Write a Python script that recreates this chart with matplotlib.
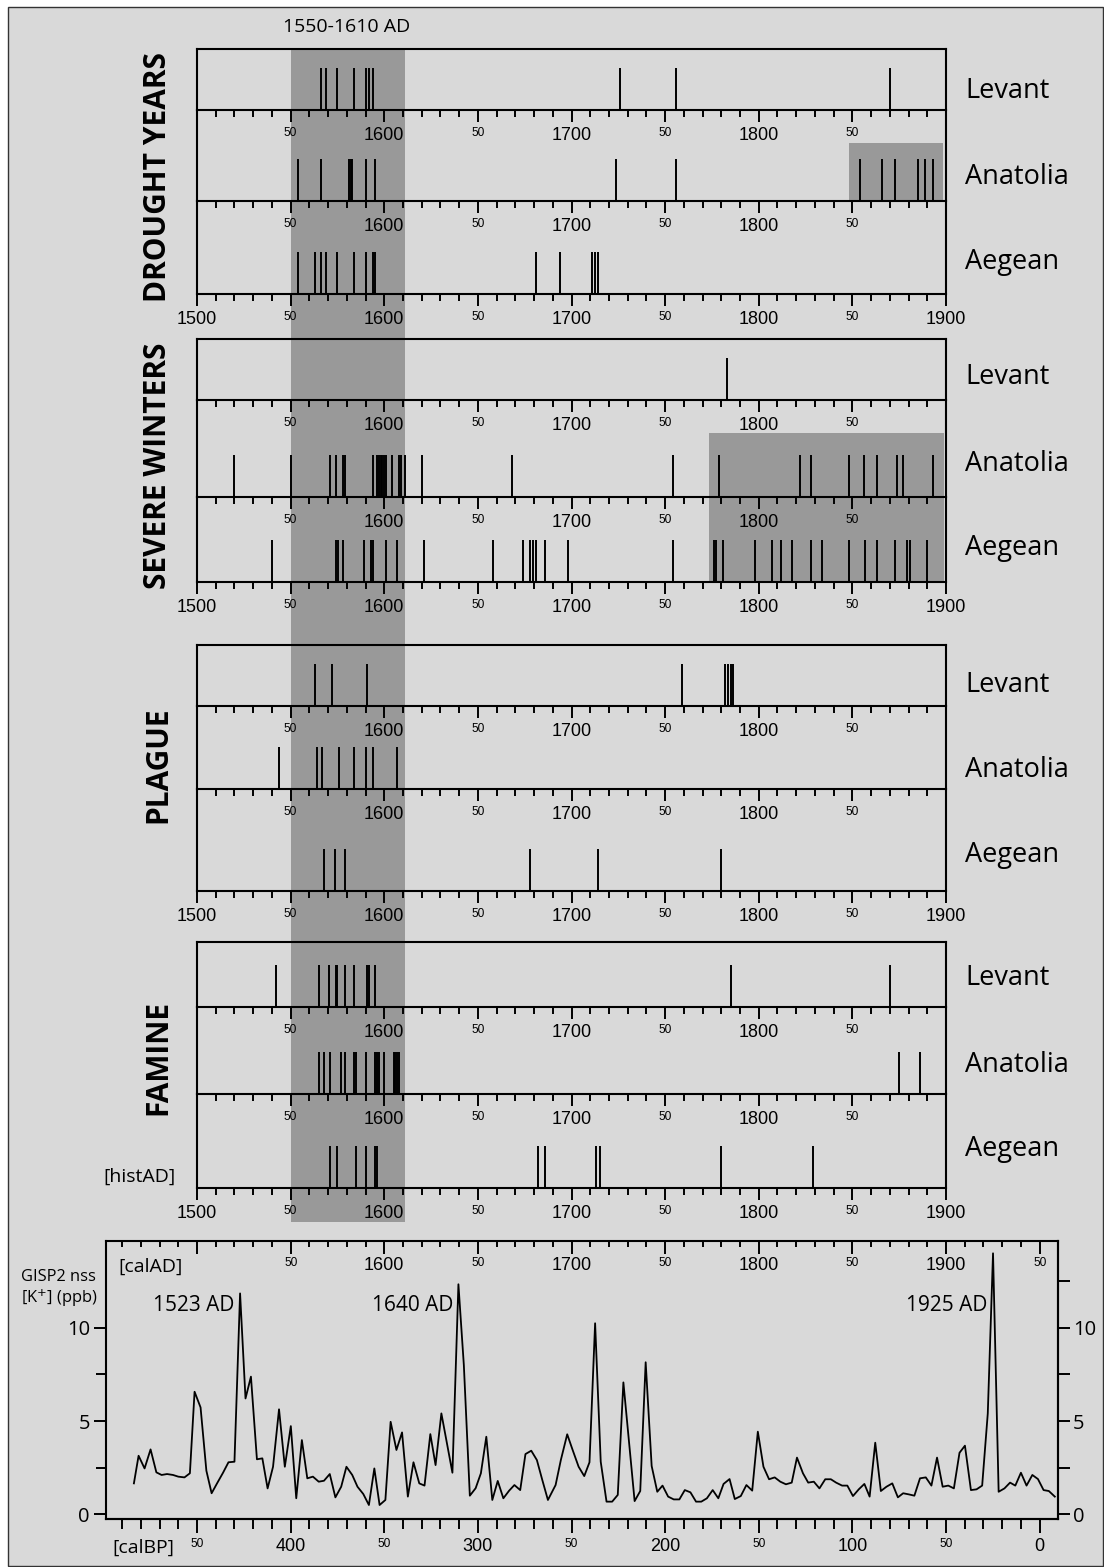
"""Historical drought / winter / plague / famine years (Levant, Anatolia, Aegean)
stacked above the GISP2 nss potassium record."""
import matplotlib
matplotlib.use("Agg")
import matplotlib.pyplot as plt
import numpy as np
from matplotlib.patches import Rectangle
from matplotlib.transforms import blended_transform_factory

# ---------------------------------------------------------------- data
regions = ["Levant", "Anatolia", "Aegean"]
categories = ["DROUGHT YEARS", "SEVERE WINTERS", "PLAGUE", "FAMINE"]

drought_levant = [1566, 1569, 1575, 1584, 1590, 1592, 1594, 1726, 1756, 1870]
drought_anatolia = [1554, 1566, 1581, 1582, 1583, 1590, 1595, 1724, 1756,
                    1854, 1866, 1873, 1885, 1889, 1893]
drought_aegean = [1554, 1563, 1566, 1569, 1575, 1584, 1590, 1594, 1595,
                  1681, 1694, 1711, 1712.5, 1714]

winter_levant = [1783]
winter_anatolia = [1520, 1550, 1571, 1574, 1578, 1579, 1594, 1596, 1597, 1598,
                   1599, 1600, 1601, 1604, 1608, 1609, 1611, 1620, 1668, 1754,
                   1779, 1822, 1828, 1848, 1856, 1863, 1874, 1877, 1893]
winter_aegean = [1540, 1574, 1575.5, 1578, 1589, 1593, 1594, 1601, 1607, 1621,
                 1658, 1674, 1678, 1679.5, 1681, 1686, 1698, 1754, 1776, 1777,
                 1781, 1798, 1807, 1812, 1818, 1828, 1834, 1848, 1857, 1863,
                 1873, 1879, 1881, 1890]

plague_levant = [1563, 1572, 1591, 1759, 1782, 1783.5, 1785, 1786]
plague_anatolia = [1544, 1564, 1567, 1576, 1584, 1590, 1594, 1607]
plague_aegean = [1568, 1573.5, 1579, 1678, 1714, 1780]

famine_levant = [1542, 1565, 1570.5, 1574, 1575, 1579, 1584, 1591, 1592, 1595,
                 1785, 1870]
famine_anatolia = [1565, 1568, 1571, 1577, 1579, 1584, 1585, 1590, 1595, 1596,
                   1597, 1600, 1605, 1606, 1607, 1608, 1875, 1886]
famine_aegean = [1571, 1575, 1585, 1590.5, 1595, 1596, 1682, 1686, 1713, 1715,
                 1780, 1829]

events = [
    [drought_levant, drought_anatolia, drought_aegean],
    [winter_levant, winter_anatolia, winter_aegean],
    [plague_levant, plague_anatolia, plague_aegean],
    [famine_levant, famine_anatolia, famine_aegean],
]

band_years = (1550, 1611)
band_label = "1550-1610 AD"
# shaded clusters: (category index, first region index, last region index, start, end)
clusters = [(0, 1, 1, 1848, 1898.5), (1, 1, 2, 1773.5, 1899)]

gisp_year = [1466.3, 1468.8, 1472.0, 1475.2, 1478.3, 1481.1, 1484.0, 1487.2, 1490.0,
             1493.3, 1496.2, 1498.7, 1501.9, 1505.0, 1507.8, 1510.7, 1513.9, 1516.8,
             1520.0, 1523.0, 1525.9, 1528.8, 1532.0, 1534.9, 1537.7, 1540.6, 1543.8,
             1546.9, 1550.1, 1553.0, 1556.0, 1558.9, 1561.9, 1565.0, 1567.8, 1570.9,
             1573.9, 1577.0, 1579.8, 1582.9, 1585.7, 1588.8, 1591.8, 1594.7, 1597.5,
             1600.6, 1603.4, 1606.5, 1609.5, 1612.6, 1615.6, 1618.7, 1621.5, 1624.6,
             1627.4, 1630.5, 1633.5, 1636.4, 1639.6, 1642.5, 1645.7, 1648.8, 1651.6,
             1654.5, 1657.7, 1660.6, 1663.6, 1666.7, 1669.5, 1672.6, 1675.4, 1678.5,
             1681.5, 1684.4, 1687.4, 1691.5, 1694.3, 1697.7, 1700.6, 1703.8, 1706.8,
             1709.6, 1712.6, 1715.6, 1718.7, 1721.7, 1724.7, 1727.7, 1730.7, 1733.7,
             1736.7, 1739.6, 1742.8, 1745.8, 1748.6, 1751.6, 1754.6, 1757.6, 1760.5,
             1763.5, 1766.5, 1769.3, 1772.3, 1775.4, 1778.4, 1781.2, 1784.4, 1787.2,
             1790.4, 1793.4, 1796.5, 1799.5, 1802.5, 1805.5, 1808.5, 1811.5, 1814.5,
             1817.6, 1820.4, 1823.6, 1826.4, 1829.4, 1832.4, 1835.5, 1838.5, 1841.3,
             1844.5, 1847.3, 1850.3, 1853.4, 1856.4, 1859.2, 1862.2, 1865.2, 1868.2,
             1871.3, 1874.3, 1877.1, 1880.1, 1883.1, 1886.1, 1889.2, 1892.2, 1895.2,
             1898.2, 1901.2, 1904.2, 1907.2, 1910.1, 1913.3, 1916.3, 1919.3, 1922.3,
             1925.1, 1928.1, 1931.2, 1934.2, 1937.0, 1940.0, 1943.0, 1946.1, 1949.1,
             1952.1, 1954.9, 1958.1]
gisp_k = [1.66, 3.14, 2.46, 3.48, 2.25, 2.11, 2.16, 2.11, 2.02,
          1.98, 2.20, 6.57, 5.73, 2.34, 1.13, 1.66, 2.23, 2.79,
          2.82, 11.84, 6.21, 7.38, 2.95, 3.00, 1.39, 2.55, 5.63,
          2.55, 4.73, 0.86, 3.98, 1.93, 2.02, 1.75, 1.80, 2.16,
          0.91, 1.48, 2.55, 2.11, 1.48, 1.09, 0.50, 2.46, 0.50,
          0.77, 4.96, 3.45, 4.39, 0.95, 2.79, 1.66, 1.54, 4.30,
          2.64, 5.41, 3.80, 2.23, 12.33, 8.00, 1.00, 1.40, 2.20,
          4.16, 0.77, 1.79, 0.86, 1.27, 1.57, 1.30, 3.23, 3.41,
          2.91, 1.84, 0.77, 1.57, 2.91, 4.29, 3.45, 2.55, 2.05,
          2.79, 10.24, 2.82, 0.68, 0.68, 1.04, 7.07, 3.89, 0.71,
          1.25, 8.15, 2.59, 1.21, 1.54, 0.95, 0.80, 0.80, 1.30,
          1.18, 0.68, 0.68, 0.86, 1.30, 0.86, 1.63, 1.89, 0.82,
          0.98, 1.57, 1.27, 4.43, 2.55, 1.88, 1.98, 1.75, 1.61,
          1.70, 3.04, 2.20, 1.70, 1.75, 1.39, 1.88, 1.88, 1.70,
          1.54, 1.54, 0.98, 1.34, 1.63, 0.95, 3.84, 1.25, 1.48,
          1.66, 0.91, 1.13, 1.07, 1.00, 1.93, 1.98, 1.54, 3.04,
          1.48, 1.54, 1.39, 3.30, 3.68, 1.30, 1.34, 1.54, 5.41,
          13.99, 1.21, 1.39, 1.70, 1.54, 2.23, 1.54, 2.11, 1.89,
          1.30, 1.25, 0.95]
peak_years = [1523, 1640, 1925]

# ---------------------------------------------------------------- layout (pixels)
W, H, DPI = 1104, 1567, 100
BG = "#d9d9d9"
SHADE = "#999999"
TICK_FONT = "Liberation Sans"
plt.rcParams["font.family"] = ["Open Sans", "DejaVu Sans"]


def fx(px):
    return px / W


def fy(py):
    return 1 - py / H


STRIP_X = (197, 946)
GROUP_TOP = [49, 339, 645, 942]
BASELINES = [[110, 201, 294], [400, 497, 582], [706, 789, 891], [1007, 1094, 1188]]
NAME_BASE = [[98, 184, 269], [384, 471, 555], [692, 777, 862], [985, 1072, 1156]]
TITLE_Y = [177, 466, 765, 1057]
MARK_H = 42

fig = plt.figure(figsize=(W / DPI, H / DPI), dpi=DPI, facecolor="white")
fig.add_artist(Rectangle((fx(8), fy(1566)), fx(1103) - fx(8), fy(7) - fy(1566),
                         transform=fig.transFigure, facecolor=BG,
                         edgecolor="#333333", lw=1.0, zorder=-3))

strip_axes = []
for gi, cat in enumerate(categories):
    prev = GROUP_TOP[gi]
    for si, region in enumerate(regions):
        b = BASELINES[gi][si]
        ax = fig.add_axes([fx(STRIP_X[0]), fy(b), fx(STRIP_X[1]) - fx(STRIP_X[0]),
                           (b - prev) / H])
        ax.patch.set_visible(False)
        ax.set_xlim(1500, 1900)
        ax.set_ylim(0, b - prev)
        ax.vlines(events[gi][si], 0, MARK_H, color="black", lw=1.4)
        for sp in ax.spines.values():
            sp.set_linewidth(1.5)
        ax.spines["top"].set_visible(si == 0)
        ax.set_yticks([])
        major = np.arange(1500, 1901, 50)
        last = si == 2
        labels = ["50" if y % 100 == 50 else (str(y) if (last or 1500 < y < 1900) else "")
                  for y in major]
        ax.set_xticks(major, labels)
        ax.set_xticks(np.arange(1500, 1901, 10), minor=True)
        ax.tick_params(axis="x", which="major", direction="out", length=8.4, width=1.4,
                       pad=3.5, labelfontfamily=TICK_FONT)
        ax.tick_params(axis="x", which="minor", direction="out", length=5, width=1.4)
        for t, lab in zip(ax.xaxis.get_major_ticks(), labels):
            t.label1.set_fontsize(8.6 if lab == "50" else 13)
        fig.text(fx(965), fy(NAME_BASE[gi][si]), region, fontsize=19.5, va="baseline")
        strip_axes.append((gi, si, ax))
        prev = b
    fig.text(fx(158), fy(TITLE_Y[gi]), cat, rotation=90, ha="center", va="center",
             fontsize=21.5, fontweight="bold")

ref_ax = strip_axes[0][2]
blend = blended_transform_factory(ref_ax.transData, fig.transFigure)
fig.add_artist(Rectangle((band_years[0], fy(1222)), band_years[1] - band_years[0],
                         fy(48) - fy(1222), transform=blend, facecolor=SHADE,
                         edgecolor="none", zorder=-1))
fig.text(fx(347), fy(27), band_label, fontsize=14, ha="center", va="center")

for gi, r0, r1, y0, y1 in clusters:
    top_px = (GROUP_TOP[gi] if r0 == 0 else BASELINES[gi][r0 - 1]) + 33
    bot_px = BASELINES[gi][r1]
    fig.add_artist(Rectangle((y0, fy(bot_px)), y1 - y0, fy(top_px) - fy(bot_px),
                             transform=blend, facecolor=SHADE, edgecolor="none",
                             zorder=-0.5))

fig.text(fx(103), fy(1177), "[histAD]", fontsize=14, va="center")

# ---------------------------------------------------------------- GISP2 panel
ax = fig.add_axes([fx(106), fy(1519), fx(1058) - fx(106), (1519 - 1241) / H])
ax.patch.set_visible(False)
ax.plot(gisp_year, gisp_k, color="black", lw=1.3)
ax.set_xlim(1451.4, 1959.8)
ax.set_ylim(-0.25, 14.65)
for sp in ax.spines.values():
    sp.set_linewidth(1.5)

ax.xaxis.tick_top()
ad_major = np.arange(1500, 1951, 50)
ad_labels = ["" if y == 1500 else ("50" if y % 100 == 50 else str(y)) for y in ad_major]
ax.set_xticks(ad_major, ad_labels)
ax.set_xticks(np.arange(1460, 1951, 10), minor=True)
ax.tick_params(axis="x", which="major", direction="in", length=9, width=1.4,
               pad=-11.5, labelfontfamily=TICK_FONT)
ax.tick_params(axis="x", which="minor", direction="in", length=4.5, width=1.4)
for t, lab in zip(ax.xaxis.get_major_ticks(), ad_labels):
    t.label2.set_va("top")
    t.label2.set_fontsize(8.6 if lab == "50" else 13)

ax.set_yticks([0, 5, 10])
ax.set_yticks([2.5, 7.5], minor=True)
ax.tick_params(axis="y", which="major", direction="out", length=8.6, width=1.4,
               pad=3, labelsize=14.5)
ax.tick_params(axis="y", which="minor", direction="out", length=7, width=1.4)

right = ax.secondary_yaxis("right")
right.set_yticks([0, 5, 10])
right.set_yticks([2.5, 7.5, 12.5], minor=True)
right.tick_params(axis="y", which="both", direction="out", length=8.6, width=1.4,
                  pad=2, labelsize=14.5)
right.spines["right"].set_linewidth(1.5)

bp = ax.secondary_xaxis("bottom", functions=(lambda x: 1950 - x, lambda x: 1950 - x))
bp_major = np.arange(0, 451, 50)
bp_labels = [str(v) if v % 100 == 0 else "50" for v in bp_major]
bp.set_xticks(bp_major, bp_labels)
bp.set_xticks(np.arange(0, 491, 10), minor=True)
bp.tick_params(axis="x", which="major", direction="out", length=10, width=1.4,
               pad=4, labelfontfamily=TICK_FONT)
bp.tick_params(axis="x", which="minor", direction="out", length=7, width=1.4)
bp.spines["bottom"].set_linewidth(1.5)
for t, lab in zip(bp.xaxis.get_major_ticks(), bp_labels):
    t.label1.set_fontsize(8.6 if lab == "50" else 13)

for yr in peak_years:
    ax.text(yr - 3, 10.9, f"{yr} AD", fontsize=15, ha="right", va="baseline")

ax.text((118 - 106) / 952, 0.906, "[calAD]", transform=ax.transAxes,
        fontsize=14, va="center")
fig.text(fx(112), fy(1548), "[calBP]", fontsize=14, va="center")
fig.text(fx(21), fy(1281), "GISP2 nss", fontsize=11.8, va="baseline")
fig.text(fx(21), fy(1303), "[K$^{+}$] (ppb)", fontsize=11.8, va="baseline")

fig.savefig("out.png", dpi=DPI, facecolor="white")
